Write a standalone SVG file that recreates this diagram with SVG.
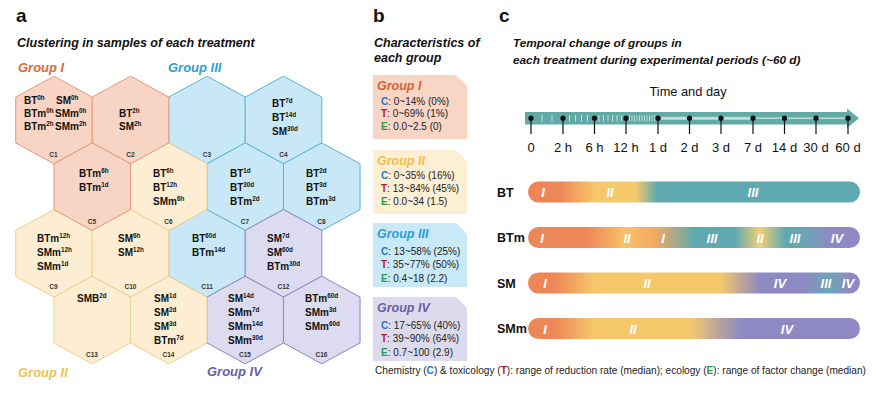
<svg xmlns="http://www.w3.org/2000/svg" width="876" height="410" viewBox="0 0 876 410">
<style>
.pl{font:bold 19px "Liberation Sans",Arial,sans-serif;fill:#111}
.ttl{font:italic bold 12.5px "Liberation Sans",Arial,sans-serif;fill:#111}
.ttc{font:italic bold 11.8px "Liberation Sans",Arial,sans-serif;fill:#111}
.ht{font:bold 10px "Liberation Sans",Arial,sans-serif;fill:#111}
.sp{font-size:6.3px}
.hl{font:bold 6.5px "Liberation Sans",Arial,sans-serif;fill:#333;text-anchor:middle}
.gI{fill:#f8d4c4;stroke:#e39a7a;stroke-width:1}
.gII{fill:#fdeed3;stroke:#f0cf8a;stroke-width:1}
.gIII{fill:#c9e8f7;stroke:#5ab2d6;stroke-width:1}
.gIV{fill:#dddbf0;stroke:#8c85c0;stroke-width:1}
.glab{font:italic bold 13px "Liberation Sans",Arial,sans-serif}
.btit{font:italic bold 12.5px "Liberation Sans",Arial,sans-serif}
.bt{font:10px "Liberation Sans",Arial,sans-serif;fill:#222}
.cC{fill:#2a78c0;font-weight:bold}.cT{fill:#b3182d;font-weight:bold}.cE{fill:#2d9a4a;font-weight:bold}
.tl{font:13px "Liberation Sans",Arial,sans-serif;fill:#111;text-anchor:middle}
.bl{font:bold 12.5px "Liberation Sans",Arial,sans-serif;fill:#111}
.rn{font:italic bold 13px "Liberation Sans",Arial,sans-serif;fill:#fff;text-anchor:middle}
.tk{stroke:#111;stroke-width:1.2}
.mt{stroke:#e6f2f0;stroke-width:1;opacity:.75}
</style>
<defs>
<polygon id="hex" points="0,-43.8 38.3,-22.9 38.3,22.9 0,43.8 -38.3,22.9 -38.3,-22.9"/>
<path id="box" d="M0,0 H83 L94,11 V64 H0 Z"/>
<linearGradient id="gBT" gradientUnits="userSpaceOnUse" x1="528" y1="0" x2="860" y2="0">
<stop offset="0" stop-color="#ee8757"/><stop offset="0.096" stop-color="#ee8757"/><stop offset="0.205" stop-color="#f6c86c"/><stop offset="0.325" stop-color="#f6c86c"/><stop offset="0.389" stop-color="#5eaab0"/><stop offset="1" stop-color="#5eaab0"/>
</linearGradient>
<linearGradient id="gBTm" gradientUnits="userSpaceOnUse" x1="528" y1="0" x2="860" y2="0">
<stop offset="0" stop-color="#ee8757"/><stop offset="0.178" stop-color="#ee8757"/><stop offset="0.292" stop-color="#f6c26a"/><stop offset="0.383" stop-color="#f3a862"/><stop offset="0.503" stop-color="#5eaab0"/><stop offset="0.623" stop-color="#5eaab0"/><stop offset="0.699" stop-color="#f3cf74"/><stop offset="0.774" stop-color="#5eaab0"/><stop offset="0.834" stop-color="#6aa5b6"/><stop offset="0.91" stop-color="#8e89c2"/><stop offset="1" stop-color="#8e89c2"/>
</linearGradient>
<linearGradient id="gSM" gradientUnits="userSpaceOnUse" x1="528" y1="0" x2="860" y2="0">
<stop offset="0" stop-color="#ee8757"/><stop offset="0.081" stop-color="#ee8757"/><stop offset="0.202" stop-color="#f6c86c"/><stop offset="0.578" stop-color="#f6c86c"/><stop offset="0.699" stop-color="#8e89c2"/><stop offset="0.834" stop-color="#8e89c2"/><stop offset="0.905" stop-color="#6ca6b8"/><stop offset="0.97" stop-color="#8e89c2"/><stop offset="1" stop-color="#8e89c2"/>
</linearGradient>
<linearGradient id="gSMm" gradientUnits="userSpaceOnUse" x1="528" y1="0" x2="860" y2="0">
<stop offset="0" stop-color="#ee8757"/><stop offset="0.081" stop-color="#ee8757"/><stop offset="0.202" stop-color="#f6c86c"/><stop offset="0.488" stop-color="#f6c86c"/><stop offset="0.639" stop-color="#8e89c2"/><stop offset="1" stop-color="#8e89c2"/>
</linearGradient>
</defs>
<rect width="876" height="410" fill="#fff"/>

<!-- Panel a -->
<text class="pl" x="16" y="22">a</text>
<text class="ttl" x="17" y="47">Clustering in samples of each treatment</text>
<text class="glab" x="18" y="72" fill="#da6a35">Group I</text>
<text class="glab" x="168" y="72" fill="#2e9fd4">Group III</text>
<text class="glab" x="18" y="377" fill="#f0bf55">Group II</text>
<text class="glab" x="207" y="376" fill="#675ea8">Group IV</text>

<g id="C3"><use href="#hex" x="207" y="120" class="gIII"/><text class="hl" x="207" y="156.5">C3</text></g>
<g id="C4"><use href="#hex" x="283.5" y="120" class="gIII"/>
<text class="ht" x="272" y="107">BT<tspan class="sp" dy="-3.8">7d</tspan></text>
<text class="ht" x="272" y="121">BT<tspan class="sp" dy="-3.8">14d</tspan></text>
<text class="ht" x="272" y="135">SM<tspan class="sp" dy="-3.8">30d</tspan></text>
<text class="hl" x="283.5" y="156.5">C4</text></g>
<g id="C7"><use href="#hex" x="245.25" y="186.7" class="gIII"/>
<text class="ht" x="230" y="177">BT<tspan class="sp" dy="-3.8">1d</tspan></text>
<text class="ht" x="230" y="191">BT<tspan class="sp" dy="-3.8">30d</tspan></text>
<text class="ht" x="230" y="205">BTm<tspan class="sp" dy="-3.8">2d</tspan></text>
<text class="hl" x="245" y="223.5">C7</text></g>
<g id="C8"><use href="#hex" x="321.75" y="186.7" class="gIII"/>
<text class="ht" x="306" y="177">BT<tspan class="sp" dy="-3.8">2d</tspan></text>
<text class="ht" x="306" y="191">BT<tspan class="sp" dy="-3.8">3d</tspan></text>
<text class="ht" x="306" y="205">BTm<tspan class="sp" dy="-3.8">3d</tspan></text>
<text class="hl" x="321.5" y="223.5">C8</text></g>
<g id="C11"><use href="#hex" x="207" y="253.3" class="gIII"/>
<text class="ht" x="192" y="242">BT<tspan class="sp" dy="-3.8">60d</tspan></text>
<text class="ht" x="192" y="256">BTm<tspan class="sp" dy="-3.8">14d</tspan></text>
<text class="hl" x="207" y="289">C11</text></g>

<g id="C12"><use href="#hex" x="283.5" y="253.3" class="gIV"/>
<text class="ht" x="267" y="242">SM<tspan class="sp" dy="-3.8">7d</tspan></text>
<text class="ht" x="267" y="256">SM<tspan class="sp" dy="-3.8">60d</tspan></text>
<text class="ht" x="267" y="270">BTm<tspan class="sp" dy="-3.8">30d</tspan></text>
<text class="hl" x="283.5" y="289">C12</text></g>
<g id="C15"><use href="#hex" x="245.25" y="320" class="gIV"/>
<text class="ht" x="228" y="302">SM<tspan class="sp" dy="-3.8">14d</tspan></text>
<text class="ht" x="228" y="316">SMm<tspan class="sp" dy="-3.8">7d</tspan></text>
<text class="ht" x="228" y="330">SMm<tspan class="sp" dy="-3.8">14d</tspan></text>
<text class="ht" x="228" y="344">SMm<tspan class="sp" dy="-3.8">30d</tspan></text>
<text class="hl" x="245" y="356.5">C15</text></g>
<g id="C16"><use href="#hex" x="321.75" y="320" class="gIV"/>
<text class="ht" x="305" y="302">BTm<tspan class="sp" dy="-3.8">60d</tspan></text>
<text class="ht" x="305" y="316">SMm<tspan class="sp" dy="-3.8">3d</tspan></text>
<text class="ht" x="305" y="330">SMm<tspan class="sp" dy="-3.8">60d</tspan></text>
<text class="hl" x="321.5" y="356.5">C16</text></g>

<g id="C6"><use href="#hex" x="168.75" y="186.7" class="gII"/>
<text class="ht" x="153" y="177">BT<tspan class="sp" dy="-3.8">6h</tspan></text>
<text class="ht" x="153" y="191">BT<tspan class="sp" dy="-3.8">12h</tspan></text>
<text class="ht" x="153" y="205">SMm<tspan class="sp" dy="-3.8">6h</tspan></text>
<text class="hl" x="168.5" y="223.5">C6</text></g>
<g id="C9"><use href="#hex" x="54" y="253.3" class="gII"/>
<text class="ht" x="37" y="242">BTm<tspan class="sp" dy="-3.8">12h</tspan></text>
<text class="ht" x="37" y="256">SMm<tspan class="sp" dy="-3.8">12h</tspan></text>
<text class="ht" x="37" y="270">SMm<tspan class="sp" dy="-3.8">1d</tspan></text>
<text class="hl" x="53.5" y="289">C9</text></g>
<g id="C10"><use href="#hex" x="130.5" y="253.3" class="gII"/>
<text class="ht" x="118" y="242">SM<tspan class="sp" dy="-3.8">6h</tspan></text>
<text class="ht" x="118" y="256">SM<tspan class="sp" dy="-3.8">12h</tspan></text>
<text class="hl" x="130.5" y="289">C10</text></g>
<g id="C13"><use href="#hex" x="92.25" y="320" class="gII"/>
<text class="ht" x="77" y="302">SMB<tspan class="sp" dy="-3.8">2d</tspan></text>
<text class="hl" x="92" y="356.5">C13</text></g>
<g id="C14"><use href="#hex" x="168.75" y="320" class="gII"/>
<text class="ht" x="154" y="302">SM<tspan class="sp" dy="-3.8">1d</tspan></text>
<text class="ht" x="154" y="316">SM<tspan class="sp" dy="-3.8">2d</tspan></text>
<text class="ht" x="154" y="330">SM<tspan class="sp" dy="-3.8">3d</tspan></text>
<text class="ht" x="154" y="344">BTm<tspan class="sp" dy="-3.8">7d</tspan></text>
<text class="hl" x="168.5" y="356.5">C14</text></g>

<g id="C1"><use href="#hex" x="54" y="120" class="gI"/>
<text class="ht" x="24" y="104">BT<tspan class="sp" dy="-3.8">0h</tspan></text>
<text class="ht" x="56" y="104">SM<tspan class="sp" dy="-3.8">0h</tspan></text>
<text class="ht" x="24" y="117">BTm<tspan class="sp" dy="-3.8">0h</tspan></text>
<text class="ht" x="55" y="117">SMm<tspan class="sp" dy="-3.8">0h</tspan></text>
<text class="ht" x="24" y="130">BTm<tspan class="sp" dy="-3.8">2h</tspan></text>
<text class="ht" x="55" y="130">SMm<tspan class="sp" dy="-3.8">2h</tspan></text>
<text class="hl" x="53.5" y="156.5">C1</text></g>
<g id="C2"><use href="#hex" x="130.5" y="120" class="gI"/>
<text class="ht" x="119" y="117">BT<tspan class="sp" dy="-3.8">2h</tspan></text>
<text class="ht" x="119" y="130">SM<tspan class="sp" dy="-3.8">2h</tspan></text>
<text class="hl" x="130.5" y="156.5">C2</text></g>
<g id="C5"><use href="#hex" x="92.25" y="186.7" class="gI"/>
<text class="ht" x="79" y="177">BTm<tspan class="sp" dy="-3.8">6h</tspan></text>
<text class="ht" x="79" y="191">BTm<tspan class="sp" dy="-3.8">1d</tspan></text>
<text class="hl" x="92" y="223.5">C5</text></g>

<!-- Panel b -->
<text class="pl" x="373" y="22">b</text>
<text class="ttl" x="374" y="47">Characteristics of</text>
<text class="ttl" x="374" y="62">each group</text>
<g id="bI"><use href="#box" x="373" y="75" fill="#f9d5c5"/>
<text class="btit" x="377" y="90" fill="#d9622f">Group I</text>
<text class="bt" x="381" y="104.5"><tspan class="cC">C</tspan>: 0~14% (0%)</text>
<text class="bt" x="381" y="117"><tspan class="cT">T</tspan>: 0~69% (1%)</text>
<text class="bt" x="381" y="129.5"><tspan class="cE">E</tspan>: 0.0~2.5 (0)</text></g>
<g id="bII"><use href="#box" x="373" y="150" fill="#fdefd4"/>
<text class="btit" x="377" y="165" fill="#f2bc4c">Group II</text>
<text class="bt" x="381" y="178.5"><tspan class="cC">C</tspan>: 0~35% (16%)</text>
<text class="bt" x="381" y="191.5"><tspan class="cT">T</tspan>: 13~84% (45%)</text>
<text class="bt" x="381" y="205"><tspan class="cE">E</tspan>: 0.0~34 (1.5)</text></g>
<g id="bIII"><use href="#box" x="373" y="223" fill="#cae9f7"/>
<text class="btit" x="377" y="238" fill="#2c9ed5">Group III</text>
<text class="bt" x="381" y="255"><tspan class="cC">C</tspan>: 13~58% (25%)</text>
<text class="bt" x="381" y="268"><tspan class="cT">T</tspan>: 35~77% (50%)</text>
<text class="bt" x="381" y="281.5"><tspan class="cE">E</tspan>: 0.4~18 (2.2)</text></g>
<g id="bIV"><use href="#box" x="373" y="297" fill="#dcdbee"/>
<text class="btit" x="377" y="312" fill="#6a5ea8">Group IV</text>
<text class="bt" x="381" y="329"><tspan class="cC">C</tspan>: 17~65% (40%)</text>
<text class="bt" x="381" y="342"><tspan class="cT">T</tspan>: 39~90% (64%)</text>
<text class="bt" x="381" y="355.5"><tspan class="cE">E</tspan>: 0.7~100 (2.9)</text></g>
<text class="bt" x="375" y="374" style="font-size:10.1px" fill="#111">Chemistry (<tspan class="cC">C</tspan>) &amp; toxicology (<tspan class="cT">T</tspan>): range of reduction rate (median); ecology (<tspan class="cE">E</tspan>): range of factor change (median)</text>

<!-- Panel c -->
<text class="pl" x="499" y="22">c</text>
<text class="ttc" x="513" y="47">Temporal change of groups in</text>
<text class="ttc" x="513" y="64">each treatment during experimental periods (~60 d)</text>
<text class="tl" x="688" y="96" style="font-size:12.8px">Time and day</text>

<g id="timeline">
<rect x="525" y="112" width="324" height="12.5" fill="#62aaa5"/>
<polygon points="847,108.5 859,118.2 847,128" fill="#62aaa5"/>
<g class="mt">
<line x1="542" y1="115" x2="542" y2="121.5"/><line x1="552" y1="115" x2="552" y2="121.5"/>
<line x1="569.5" y1="115" x2="569.5" y2="121.5"/><line x1="575.5" y1="115" x2="575.5" y2="121.5"/><line x1="581.5" y1="115" x2="581.5" y2="121.5"/><line x1="587.5" y1="115" x2="587.5" y2="121.5"/>
<line x1="599" y1="115" x2="599" y2="121.5"/><line x1="603.5" y1="115" x2="603.5" y2="121.5"/><line x1="608" y1="115" x2="608" y2="121.5"/><line x1="612.5" y1="115" x2="612.5" y2="121.5"/><line x1="617" y1="115" x2="617" y2="121.5"/><line x1="621.5" y1="115" x2="621.5" y2="121.5"/>
</g>
<line x1="629" y1="118.2" x2="655" y2="118.2" stroke="#e6f2f0" stroke-width="6" stroke-dasharray="1 1.5" opacity=".7"/>
<line x1="661" y1="118.2" x2="752" y2="118.2" stroke="#d9eae7" stroke-width="3" opacity=".8"/>
<line x1="755" y1="118.2" x2="845" y2="118.2" stroke="#d9eae7" stroke-width="1.5" opacity=".8"/>
<g fill="#111">
<circle cx="531" cy="118.2" r="2.6"/><circle cx="563" cy="118.2" r="2.6"/><circle cx="594.5" cy="118.2" r="2.6"/><circle cx="626" cy="118.2" r="2.6"/><circle cx="658" cy="118.2" r="2.6"/><circle cx="689.5" cy="118.2" r="2.6"/><circle cx="721" cy="118.2" r="2.6"/><circle cx="753" cy="118.2" r="2.6"/><circle cx="784.5" cy="118.2" r="2.6"/><circle cx="816" cy="118.2" r="2.6"/><circle cx="848" cy="118.2" r="2.6"/>
</g>
<g class="tk">
<line x1="531" y1="118" x2="531" y2="134"/><line x1="563" y1="118" x2="563" y2="134"/><line x1="594.5" y1="118" x2="594.5" y2="134"/><line x1="626" y1="118" x2="626" y2="134"/><line x1="658" y1="118" x2="658" y2="134"/><line x1="689.5" y1="118" x2="689.5" y2="134"/><line x1="721" y1="118" x2="721" y2="134"/><line x1="753" y1="118" x2="753" y2="134"/><line x1="784.5" y1="118" x2="784.5" y2="134"/><line x1="816" y1="118" x2="816" y2="134"/><line x1="848" y1="118" x2="848" y2="134"/>
</g>
<text class="tl" x="531" y="152">0</text><text class="tl" x="563" y="152">2 h</text><text class="tl" x="594.5" y="152">6 h</text><text class="tl" x="626" y="152">12 h</text><text class="tl" x="658" y="152">1 d</text><text class="tl" x="689.5" y="152">2 d</text><text class="tl" x="721" y="152">3 d</text><text class="tl" x="753" y="152">7 d</text><text class="tl" x="784.5" y="152">14 d</text><text class="tl" x="816" y="152">30 d</text><text class="tl" x="848" y="152">60 d</text>
</g>

<g id="barBT">
<text class="bl" x="497" y="196.5">BT</text>
<rect x="528" y="181.5" width="332" height="21" rx="10.5" fill="url(#gBT)"/>
<text class="rn" x="543" y="197">I</text><text class="rn" x="610" y="197">II</text><text class="rn" x="753" y="197">III</text>
</g>
<g id="barBTm">
<text class="bl" x="497" y="242">BTm</text>
<rect x="528" y="227" width="332" height="21" rx="10.5" fill="url(#gBTm)"/>
<text class="rn" x="542" y="242.5">I</text><text class="rn" x="627" y="242.5">II</text><text class="rn" x="663" y="242.5">I</text><text class="rn" x="712" y="242.5">III</text><text class="rn" x="760" y="242.5">II</text><text class="rn" x="795" y="242.5">III</text><text class="rn" x="837" y="242.5">IV</text>
</g>
<g id="barSM">
<text class="bl" x="497" y="287.5">SM</text>
<rect x="528" y="272.5" width="332" height="21" rx="10.5" fill="url(#gSM)"/>
<text class="rn" x="545" y="288">I</text><text class="rn" x="647" y="288">II</text><text class="rn" x="780" y="288">IV</text><text class="rn" x="826" y="288">III</text><text class="rn" x="848" y="288">IV</text>
</g>
<g id="barSMm">
<text class="bl" x="497" y="333">SMm</text>
<rect x="528" y="318" width="332" height="21" rx="10.5" fill="url(#gSMm)"/>
<text class="rn" x="545" y="333.5">I</text><text class="rn" x="633" y="333.5">II</text><text class="rn" x="787" y="333.5">IV</text>
</g>
</svg>
